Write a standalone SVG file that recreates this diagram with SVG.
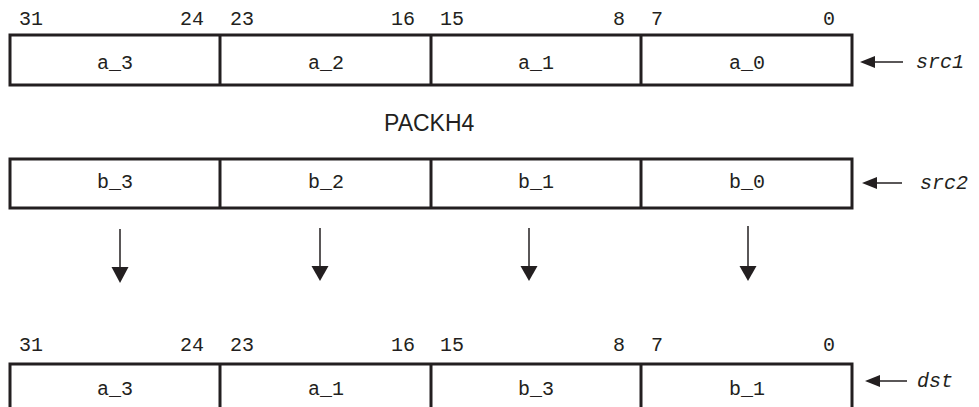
<svg xmlns="http://www.w3.org/2000/svg" width="979" height="407" viewBox="0 0 979 407">
<defs>
<style>
.box{fill:#fff;stroke:#231f20;stroke-width:3}
.div{stroke:#231f20;stroke-width:3}
.mono{font-family:"Liberation Mono","Courier New",monospace;font-size:20px;fill:#231f20}
.it{font-family:"Liberation Mono","Courier New",monospace;font-size:20px;font-style:italic;fill:#231f20}
.title{font-family:"Liberation Sans",Arial,sans-serif;font-size:23px;fill:#231f20}
.ln{stroke:#231f20;stroke-width:1.5;fill:none}
.hd{fill:#231f20}
</style>
</defs>
<rect width="979" height="407" fill="#fff"/>
<text class="title" x="384" y="131">PACKH4</text>

<g id="src1">
<rect class="box" x="10" y="35" width="842" height="50"/>
<line class="div" x1="220" y1="35" x2="220" y2="85"/>
<line class="div" x1="431" y1="35" x2="431" y2="85"/>
<line class="div" x1="641" y1="35" x2="641" y2="85"/>
<g class="mono" text-anchor="middle">
<text x="115" y="69">a_3</text><text x="326" y="69">a_2</text><text x="536" y="69">a_1</text><text x="747" y="69">a_0</text>
</g>
<g class="mono">
<text x="19" y="25">31</text><text x="230" y="25">23</text><text x="440" y="25">15</text><text x="651" y="25">7</text>
</g>
<g class="mono" text-anchor="end">
<text x="204" y="25">24</text><text x="415" y="25">16</text><text x="625" y="25">8</text><text x="835" y="25">0</text>
</g>
<text class="it" x="916" y="68">src1</text>
</g>

<g id="src2">
<rect class="box" x="10" y="159" width="842" height="49"/>
<line class="div" x1="220" y1="159" x2="220" y2="208"/>
<line class="div" x1="431" y1="159" x2="431" y2="208"/>
<line class="div" x1="641" y1="159" x2="641" y2="208"/>
<g class="mono" text-anchor="middle">
<text x="115" y="188">b_3</text><text x="326" y="188">b_2</text><text x="536" y="188">b_1</text><text x="747" y="188">b_0</text>
</g>
<text class="it" x="920" y="189">src2</text>
</g>

<g id="dst">
<rect class="box" x="10" y="364" width="842" height="60"/>
<line class="div" x1="220" y1="364" x2="220" y2="424"/>
<line class="div" x1="431" y1="364" x2="431" y2="424"/>
<line class="div" x1="641" y1="364" x2="641" y2="424"/>
<g class="mono" text-anchor="middle">
<text x="115" y="395">a_3</text><text x="326" y="395">a_1</text><text x="536" y="395">b_3</text><text x="747" y="395">b_1</text>
</g>
<g class="mono">
<text x="19" y="351">31</text><text x="230" y="351">23</text><text x="440" y="351">15</text><text x="651" y="351">7</text>
</g>
<g class="mono" text-anchor="end">
<text x="204" y="351">24</text><text x="415" y="351">16</text><text x="625" y="351">8</text><text x="835" y="351">0</text>
</g>
<text class="it" x="917" y="387">dst</text>
</g>

<g id="connectors">
<line class="ln" x1="874" y1="62" x2="903" y2="62"/>
<polygon class="hd" points="860,62 875,56 875,68"/>
<line class="ln" x1="876" y1="183" x2="902" y2="183"/>
<polygon class="hd" points="862,183 877,177 877,189"/>
<line class="ln" x1="879" y1="381" x2="907" y2="381"/>
<polygon class="hd" points="865,381 880,375 880,387"/>

<line class="ln" x1="120" y1="229" x2="120" y2="268"/>
<polygon class="hd" points="111.5,267 128.5,267 120,283"/>
<line class="ln" x1="320" y1="228" x2="320" y2="267"/>
<polygon class="hd" points="311.5,266 328.5,266 320,281"/>
<line class="ln" x1="529" y1="228" x2="529" y2="267"/>
<polygon class="hd" points="520.5,266 537.5,266 529,281"/>
<line class="ln" x1="748" y1="226" x2="748" y2="267"/>
<polygon class="hd" points="739.5,266 756.5,266 748,281"/>
</g>
</svg>
